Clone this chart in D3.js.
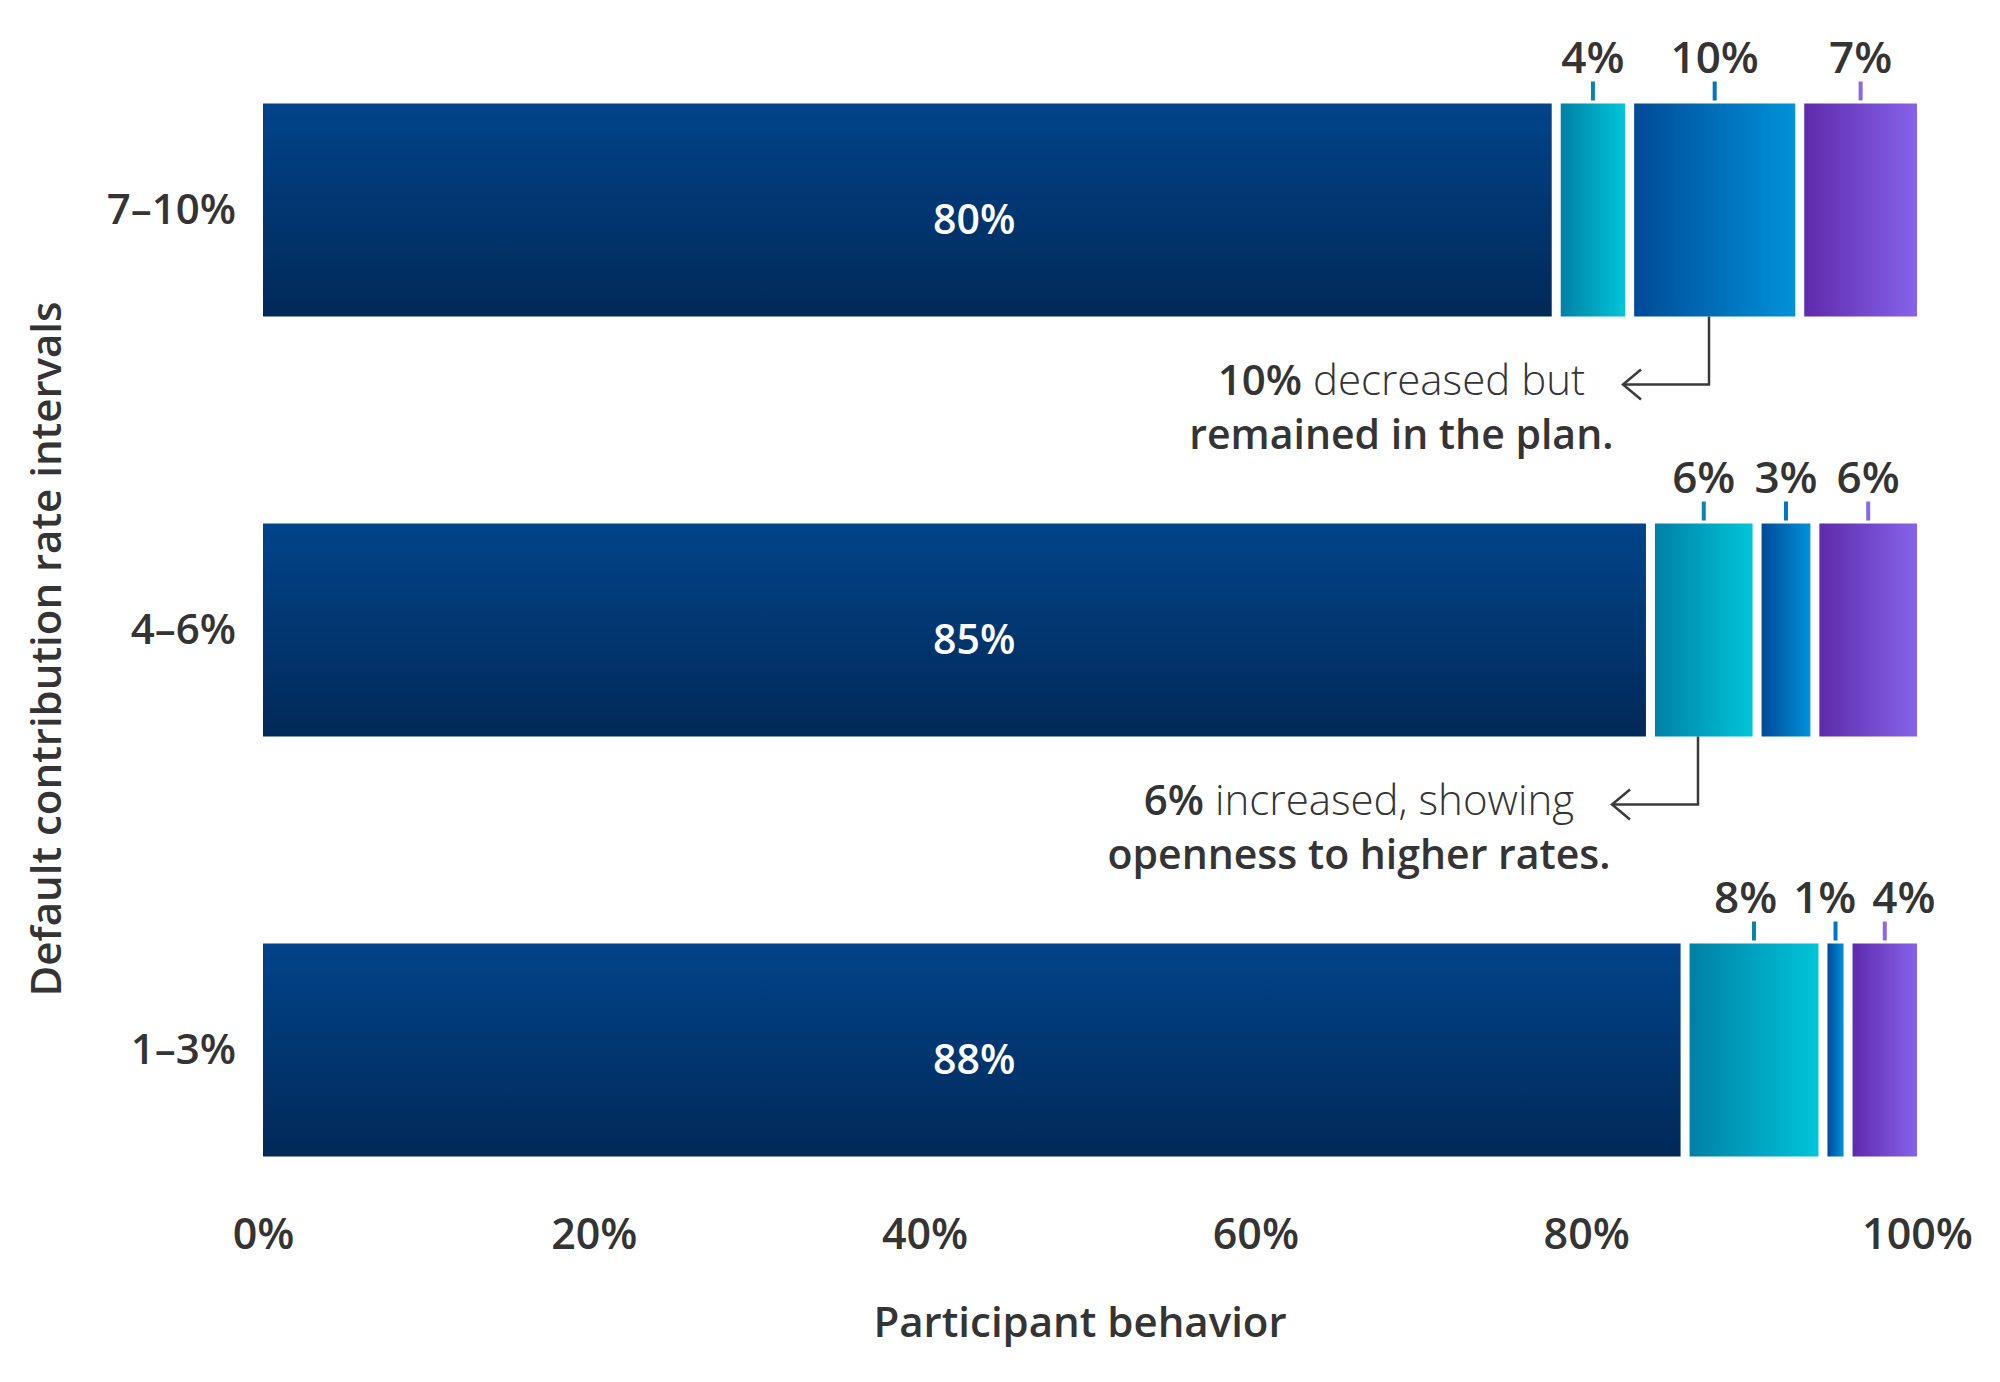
<!DOCTYPE html>
<html>
<head>
<meta charset="utf-8">
<script src="https://d3js.org/d3.v7.min.js"></script>
<style>
  html, body { margin: 0; padding: 0; background: #ffffff; }
  svg { display: block; }
  text { font-family: "Open Sans", "Noto Sans", sans-serif; fill: #343434; }
  .tick text { font-size: 43px; font-weight: 600; }
</style>
</head>
<body>
<div id="chart"></div>
<script>
// Chart data
var rows = ["7–10%", "4–6%", "1–3%"];
var categories = ["stayed", "increased", "decreased", "optedOut"];
var stayed = [80, 85, 88];
var increased = [4, 6, 8];
var decreased = [10, 3, 1];
var optedOut = [7, 6, 4];
var xTicks = [0, 20, 40, 60, 80, 100];

// Callout notes (row index + category they point at)
var notes = [
  { row: 0, cat: "decreased", bold: "10%", light: " decreased but", line2: "remained in the plan." },
  { row: 1, cat: "increased", bold: "6%", light: " increased, showing", line2: "openness to higher rates." }
];

var svgWidth = 2000;
var svgHeight = 1382;

var svg = d3.select("#chart")
  .append("svg")
  .attr("width", svgWidth)
  .attr("height", svgHeight);

// Gradients for each segment type
var defs = svg.append("defs");
var gradients = {
  stayed: { dir: "v", from: "#01448a", to: "#012958" },
  increased: { dir: "h", from: "#0080a6", to: "#00c5d9" },
  decreased: { dir: "h", from: "#004a97", to: "#0092d9" },
  optedOut: { dir: "h", from: "#5e2aab", to: "#8663e9" }
};
var tickColors = { increased: "#0a84a8", decreased: "#0474c4", optedOut: "#8c68e8" };

categories.forEach(function (c) {
  var g = gradients[c];
  var lg = defs.append("linearGradient")
    .attr("id", "grad-" + c)
    .attr("x1", 0).attr("y1", 0)
    .attr("x2", g.dir === "h" ? 1 : 0)
    .attr("y2", g.dir === "h" ? 0 : 1);
  lg.append("stop").attr("offset", "0%").attr("stop-color", g.from);
  lg.append("stop").attr("offset", "100%").attr("stop-color", g.to);
});

// Scales
var xScale = d3.scaleLinear().domain([0, 100]).range([263, 1917]);
var yScale = d3.scalePoint().domain(rows).range([210, 1050]);
var barHeight = 213;
var gap = 9;

// Build segments for each row, each row fills the full width with gaps
var seriesByCat = { stayed: stayed, increased: increased, decreased: decreased, optedOut: optedOut };
var segments = [];
rows.forEach(function (r, i) {
  var vals = categories.map(function (c) { return seriesByCat[c][i]; });
  var total = d3.sum(vals);
  var avail = xScale(100) - xScale(0) - gap * (vals.length - 1);
  var w = d3.scaleLinear().domain([0, total]).range([0, avail]);
  var cursor = xScale(0);
  vals.forEach(function (v, j) {
    segments.push({ row: r, rowIndex: i, cat: categories[j], value: v, x: cursor, width: w(v) });
    cursor += w(v) + gap;
  });
});

var chartGroup = svg.append("g");

// Bars
chartGroup.selectAll("rect.seg")
  .data(segments)
  .enter()
  .append("rect")
  .attr("class", "seg")
  .attr("x", function (d) { return d.x; })
  .attr("y", function (d) { return yScale(d.row) - barHeight / 2; })
  .attr("width", function (d) { return d.width; })
  .attr("height", barHeight)
  .attr("fill", function (d) { return "url(#grad-" + d.cat + ")"; });

// White label inside the big bar
chartGroup.selectAll("text.inner")
  .data(segments.filter(function (d) { return d.cat === "stayed"; }))
  .enter()
  .append("text")
  .attr("class", "inner")
  .attr("x", xScale(43))
  .attr("y", function (d) { return yScale(d.row) + 24; })
  .attr("text-anchor", "middle")
  .attr("font-size", "41px")
  .attr("font-weight", 600)
  .style("fill", "#ffffff")
  .text(function (d) { return d.value + "%"; });

// Small segments: tick above + value label
var small = segments.filter(function (d) { return d.cat !== "stayed"; });

chartGroup.selectAll("rect.mark")
  .data(small)
  .enter()
  .append("rect")
  .attr("class", "mark")
  .attr("x", function (d) { return d.x + d.width / 2 - 2; })
  .attr("y", function (d) { return yScale(d.row) - barHeight / 2 - 22; })
  .attr("width", 4)
  .attr("height", 19)
  .attr("fill", function (d) { return tickColors[d.cat]; });

var topLabels = chartGroup.selectAll("text.top")
  .data(small)
  .enter()
  .append("text")
  .attr("class", "top")
  .attr("x", function (d) { return d.x + d.width / 2; })
  .attr("y", function (d) { return yScale(d.row) - barHeight / 2 - 31; })
  .attr("text-anchor", "middle")
  .attr("font-size", "44px")
  .attr("font-weight", 600)
  .text(function (d) { return d.value + "%"; });

// Push apart labels that would collide within a row
topLabels.each(function (d) {
  d.lx = d.x + d.width / 2;
  d.lw = this.getBBox().width;
});
rows.forEach(function (r) {
  var lab = small.filter(function (d) { return d.row === r; });
  for (var k = 0; k < 60; k++) {
    for (var i = 0; i < lab.length - 1; i++) {
      var a = lab[i], b = lab[i + 1];
      var overlap = (a.lx + a.lw / 2 + 16) - (b.lx - b.lw / 2);
      if (overlap > 0) {
        a.lx -= overlap / 2;
        b.lx += overlap / 2;
      }
    }
  }
});
topLabels.attr("x", function (d) { return d.lx; });

// Row labels
chartGroup.selectAll("text.rowLabel")
  .data(rows)
  .enter()
  .append("text")
  .attr("class", "rowLabel")
  .attr("x", 236)
  .attr("y", function (d) { return yScale(d) + 14; })
  .attr("text-anchor", "end")
  .attr("font-size", "42px")
  .attr("font-weight", 600)
  .text(function (d) { return d; });

// X axis (labels only)
var xAxis = d3.axisBottom(xScale)
  .tickValues(xTicks)
  .tickSize(0)
  .tickPadding(8)
  .tickFormat(function (d) { return d + "%"; });

chartGroup.append("g")
  .attr("class", "x-axis")
  .attr("transform", "translate(0,1210)")
  .call(xAxis)
  .call(function (g) { g.select(".domain").remove(); })
  .selectAll("text")
  .attr("font-family", null)
  .attr("font-size", null);

// Axis titles
svg.append("text")
  .attr("x", 1080)
  .attr("y", 1337)
  .attr("text-anchor", "middle")
  .attr("font-size", "42px")
  .attr("font-weight", 600)
  .text("Participant behavior");

svg.append("text")
  .attr("transform", "translate(61,649)rotate(-90)")
  .attr("text-anchor", "middle")
  .attr("font-size", "42px")
  .attr("font-weight", 600)
  .text("Default contribution rate intervals");

// Callouts
notes.forEach(function (n) {
  var seg = segments.filter(function (d) { return d.rowIndex === n.row && d.cat === n.cat; })[0];
  var cx = Math.round(seg.x + seg.width / 2) - 6;
  var y0 = yScale(seg.row) + barHeight / 2;
  var yLine = y0 + 68;
  var tipX = cx - 86;

  chartGroup.append("path")
    .attr("d", "M" + cx + "," + y0 + "V" + yLine + "H" + tipX)
    .attr("fill", "none")
    .attr("stroke", "#3a3a3a")
    .attr("stroke-width", 2.5);

  chartGroup.append("path")
    .attr("d", "M" + (tipX + 18) + "," + (yLine - 15) + "L" + tipX + "," + yLine + "L" + (tipX + 18) + "," + (yLine + 15))
    .attr("fill", "none")
    .attr("stroke", "#3a3a3a")
    .attr("stroke-width", 2.5);

  var line1 = chartGroup.append("text")
    .attr("x", tipX - 38)
    .attr("y", yLine + 10)
    .attr("text-anchor", "end")
    .attr("font-size", "42px");
  line1.append("tspan").attr("font-weight", 600).text(n.bold);
  line1.append("tspan").attr("font-weight", 300).text(n.light);

  var box = line1.node().getBBox();
  chartGroup.append("text")
    .attr("x", box.x + box.width / 2)
    .attr("y", yLine + 64)
    .attr("text-anchor", "middle")
    .attr("font-size", "41px")
    .attr("font-weight", 600)
    .text(n.line2);
});
</script>
</body>
</html>
